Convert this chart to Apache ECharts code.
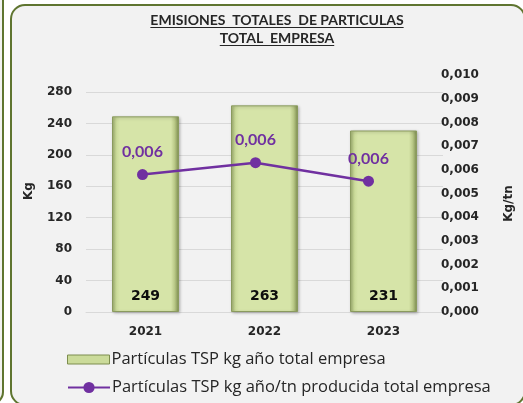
<!DOCTYPE html>
<html>
<head>
<meta charset="utf-8">
<script src="https://cdn.jsdelivr.net/npm/echarts@6/dist/echarts.min.js"></script>
<style>
  html, body { margin: 0; padding: 0; background: #fff; }
  #chart-container { width: 523px; height: 403px; }
</style>
</head>
<body>
<div id="chart-container"></div>
<script>
var years = ["2021", "2022", "2023"];
var kgYear = [249, 263, 231];
var kgPerTn = [0.0058, 0.0063, 0.00552];
var titleLines = ["EMISIONES  TOTALES  DE PARTICULAS", "TOTAL  EMPRESA"];
var barName = "Partículas TSP kg año total empresa";
var lineName = "Partículas TSP kg año/tn producida total empresa";

var latoFont = "Lato, 'Liberation Sans', sans-serif";
var numFont = "'DejaVu Sans', sans-serif";
var legendFont = "'Open Sans', sans-serif";
var dom = document.getElementById("chart-container");
var myChart = echarts.init(dom, null, { renderer: "canvas" });

// title drawn as text + underline
var ctx = document.createElement("canvas").getContext("2d");
ctx.font = "bold 14px " + latoFont;
var titleX = 277;
var titleEls = [];
titleLines.forEach(function (t, i) {
  var w = ctx.measureText(t).width;
  var cy = 20 + i * 18;
  titleEls.push({
    type: "text",
    z: 5,
    style: {
      text: t,
      x: titleX,
      y: cy,
      align: "center",
      verticalAlign: "middle",
      font: "bold 14px " + latoFont,
      fill: "#262626"
    }
  });
  titleEls.push({
    type: "line",
    z: 5,
    shape: { x1: titleX - w / 2, y1: cy + 7.5, x2: titleX + w / 2, y2: cy + 7.5 },
    style: { stroke: "#262626", lineWidth: 1 }
  });
});

var barFill = new echarts.graphic.LinearGradient(0, 0, 1, 0, [
  { offset: 0, color: "#a3b372" },
  { offset: 0.07, color: "#cbdb9a" },
  { offset: 0.12, color: "#d6e4a8" },
  { offset: 0.88, color: "#d6e4a8" },
  { offset: 0.93, color: "#bccb8a" },
  { offset: 1, color: "#7d8d4e" }
]);

var axisLabelStyle = { fontFamily: numFont, fontSize: 12, fontWeight: "bold", color: "#262626" };
var legendText = { fontFamily: legendFont, fontSize: 16.5, color: "#262626", padding: [0, 0, 0, -3] };

var option = {
  backgroundColor: "#ffffff",
  graphic: {
    elements: [
      {
        type: "rect",
        z: -10,
        shape: { x: -300, y: -20, width: 303, height: 424, r: 12 },
        style: { fill: "#f2f2f2", stroke: "#5f7530", lineWidth: 2 }
      },
      {
        type: "rect",
        z: -10,
        shape: { x: 11, y: 5, width: 514, height: 400, r: 14 },
        style: { fill: "#f2f2f2", stroke: "#5f7530", lineWidth: 2 }
      }
    ].concat(titleEls)
  },
  legend: [
    {
      left: 62,
      top: 346,
      itemWidth: 42,
      itemHeight: 9,
      textStyle: legendText,
      data: [
        { name: barName, icon: "rect", itemStyle: { color: "#cbdb9a", borderColor: "#7d8d4e", borderWidth: 1 } }
      ]
    },
    {
      left: 62,
      top: 374,
      itemWidth: 42,
      itemHeight: 14,
      textStyle: legendText,
      data: [{ name: lineName }]
    }
  ],
  grid: [
    { left: 86, right: 80, top: 92, bottom: 91 },
    { left: 86, right: 80, top: 75, bottom: 91 }
  ],
  xAxis: [
    {
      type: "category",
      gridIndex: 0,
      data: years,
      axisLine: { lineStyle: { color: "#d9d9d9" } },
      axisTick: { show: false },
      axisLabel: Object.assign({ margin: 14 }, axisLabelStyle)
    },
    {
      type: "category",
      gridIndex: 1,
      data: years,
      show: false
    }
  ],
  yAxis: [
    {
      type: "value",
      gridIndex: 0,
      min: 0,
      max: 280,
      interval: 40,
      name: "Kg",
      nameLocation: "middle",
      nameGap: 51,
      nameRotate: 90,
      nameTextStyle: Object.assign({ padding: [0, 0, 0, 22] }, axisLabelStyle),
      axisLine: { show: false },
      axisTick: { show: false },
      axisLabel: Object.assign({ margin: 14 }, axisLabelStyle),
      splitLine: { lineStyle: { color: "#d9d9d9", width: 1 } }
    },
    {
      type: "value",
      gridIndex: 1,
      position: "right",
      min: 0,
      max: 0.01,
      interval: 0.001,
      name: "Kg/tn",
      nameLocation: "middle",
      nameGap: 78,
      nameRotate: 90,
      nameTextStyle: Object.assign({ padding: [0, 0, 0, -20] }, axisLabelStyle),
      axisLine: { show: false },
      axisTick: { show: false },
      splitLine: { show: false },
      axisLabel: Object.assign({
        margin: 16,
        formatter: function (v) {
          return v.toFixed(3).replace(".", ",");
        }
      }, axisLabelStyle)
    }
  ],
  series: [
    {
      name: barName,
      type: "bar",
      xAxisIndex: 0,
      yAxisIndex: 0,
      barWidth: 67,
      data: kgYear,
      itemStyle: {
        color: barFill,
        borderColor: "#8a9a5e",
        borderWidth: 1,
        shadowColor: "rgba(0,0,0,0.25)",
        shadowBlur: 3,
        shadowOffsetX: 1,
        shadowOffsetY: 1
      },
      label: {
        show: true,
        position: "insideBottom",
        distance: 9,
        fontFamily: numFont,
        fontSize: 14,
        fontWeight: "bold",
        color: "#0d0d0d"
      }
    },
    {
      name: lineName,
      type: "line",
      xAxisIndex: 1,
      yAxisIndex: 1,
      data: kgPerTn,
      symbol: "circle",
      symbolSize: 11,
      z: 5,
      itemStyle: { color: "#7030a0" },
      lineStyle: { color: "#7030a0", width: 2.5 },
      label: {
        show: true,
        position: "top",
        distance: 9,
        fontFamily: latoFont,
        fontSize: 16,
        fontWeight: "bold",
        color: "#7030a0",
        formatter: function (p) {
          return p.value.toFixed(3).replace(".", ",");
        }
      }
    }
  ]
};

myChart.setOption(option);
window.addEventListener("resize", myChart.resize);
</script>
</body>
</html>
